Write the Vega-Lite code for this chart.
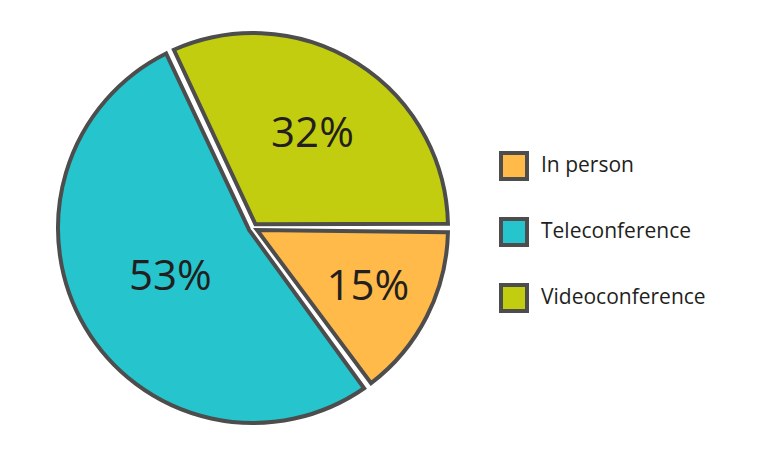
{
  "$schema": "https://vega.github.io/schema/vega-lite/v6.json",
  "width": 506,
  "height": 456,
  "padding": 0,
  "background": "white",
  "data": {"values": [
    {"label": "In person", "value": 0.15},
    {"label": "Teleconference", "value": 0.53},
    {"label": "Videoconference", "value": 0.32}
  ]},
  "encoding": {
    "theta": {"field": "value", "type": "quantitative", "stack": true, "scale": {"range": [1.5708, 7.854]}},
    "order": {"field": "label", "type": "nominal", "sort": "ascending"}
  },
  "layer": [
    {
      "mark": {"type": "arc", "radius": 195, "radius2": 4.5, "padAngle": 0.044, "stroke": "#4d4d4d", "strokeWidth": 4},
      "encoding": {
        "color": {
          "field": "label", "type": "nominal",
          "scale": {"domain": ["In person", "Teleconference", "Videoconference"], "range": ["#FFBA4A", "#26C4CC", "#C2CD0F"]},
          "legend": {
            "title": null, "orient": "none", "legendX": 499, "legendY": 151,
            "symbolType": "square", "symbolSize": 676, "symbolStrokeWidth": 4, "symbolStrokeColor": "#4d4d4d", "symbolOpacity": 1,
            "labelFont": "Open Sans", "labelFontSize": 21, "labelColor": "#231f20", "labelOffset": 12, "labelLimit": 300,
            "rowPadding": 24, "padding": 0
          }
        }
      }
    },
    {
      "mark": {"type": "text", "radius": 129, "fontSize": 42, "font": "Open Sans", "color": "#231f20"},
      "encoding": {
        "detail": {"field": "label"},
        "text": {"field": "value", "type": "quantitative", "format": ".0%"},
        "opacity": {"condition": {"test": "datum.label === 'In person'", "value": 1}, "value": 0}
      }
    },
    {
      "mark": {"type": "text", "radius": 96, "fontSize": 42, "font": "Open Sans", "color": "#231f20"},
      "encoding": {
        "detail": {"field": "label"},
        "text": {"field": "value", "type": "quantitative", "format": ".0%"},
        "opacity": {"condition": {"test": "datum.label === 'Teleconference'", "value": 1}, "value": 0}
      }
    },
    {
      "mark": {"type": "text", "radius": 111, "fontSize": 42, "font": "Open Sans", "color": "#231f20"},
      "encoding": {
        "detail": {"field": "label"},
        "text": {"field": "value", "type": "quantitative", "format": ".0%"},
        "opacity": {"condition": {"test": "datum.label === 'Videoconference'", "value": 1}, "value": 0}
      }
    }
  ],
  "config": {"view": {"stroke": null}}
}
